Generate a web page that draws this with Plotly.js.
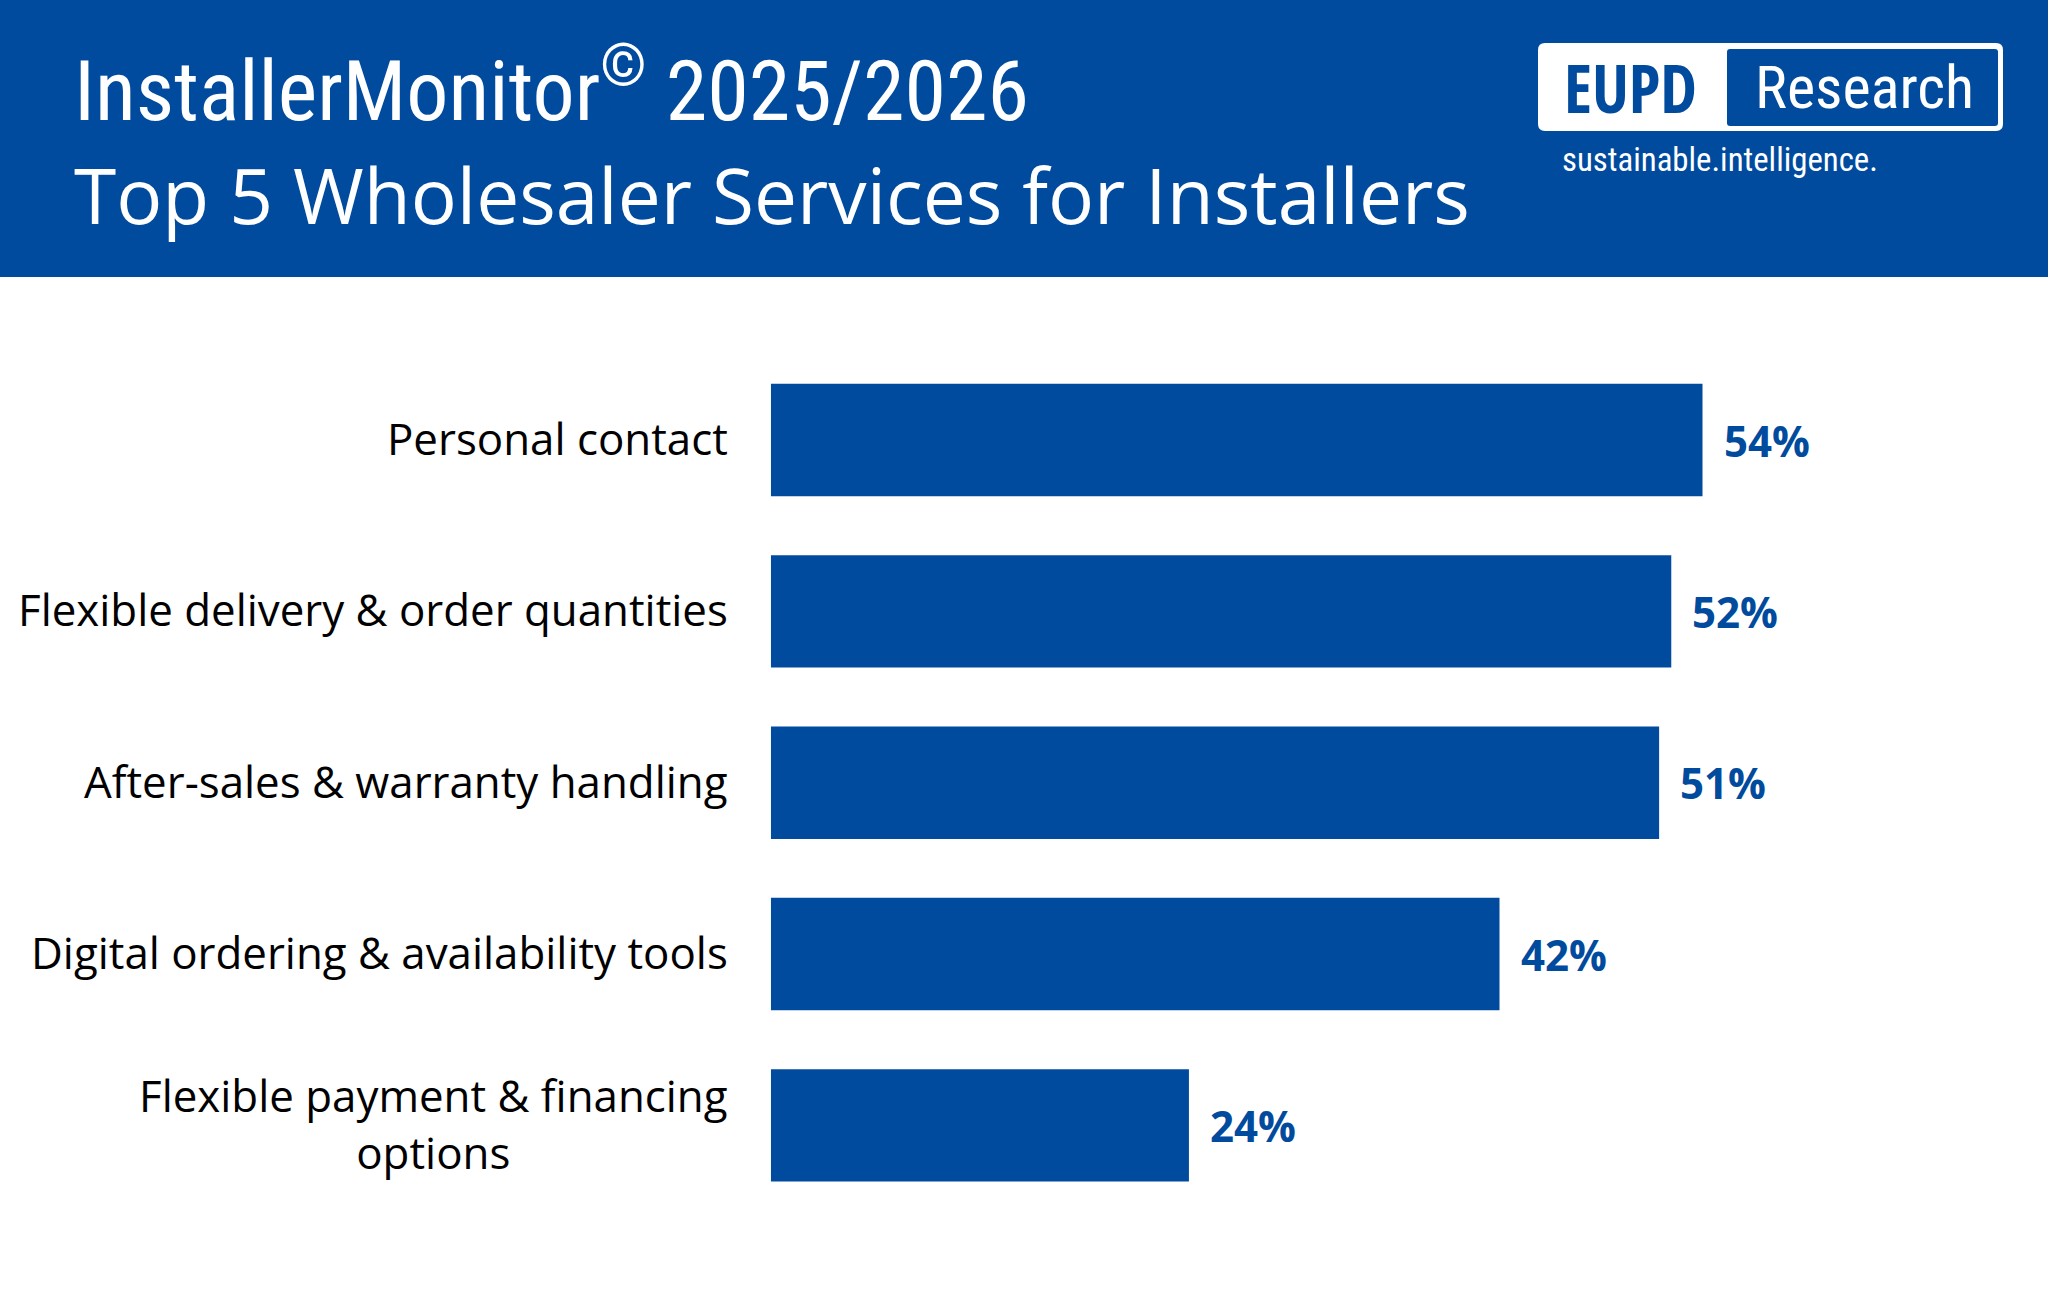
<!DOCTYPE html>
<html><head><meta charset="utf-8">
<script src="https://cdn.plot.ly/plotly-3.0.1.min.js"></script>
<style>html,body{margin:0;padding:0;background:#fff;overflow:hidden}#chart{width:2048px;height:1301px;}</style>
</head><body><div id="chart"></div>
<script>
// ---- data ----
const categories = ["Personal contact", "Flexible delivery & order quantities", "After-sales & warranty handling", "Digital ordering & availability tools", "Flexible payment & financing<br>options"];
const values = [53.7, 51.9, 51.2, 42.0, 24.1];
const valueLabels = ["54%", "52%", "51%", "42%", "24%"];
const titleLine1 = ["InstallerMonitor", "©", " 2025/2026"];
const titleLine2 = "Top 5 Wholesaler Services for Installers";
const logoLeft = "EUPD";
const logoRight = "Research";
const tagline = "sustainable.intelligence.";

// ---- helpers ----
const W = 2048, H = 1301;
const BLUE = "#004b9e";
const X = px => px / W, Y = py => 1 - py / H;
const cv = document.createElement("canvas").getContext("2d");
function mw(text, fam, weight, size) { cv.font = `${weight} ${size}px ${fam}`; return cv.measureText(text).width; }
const probe = "Research InstallerMonitor 2025";
function pick(pairs, weight, fallback) {
  for (const [c, b] of pairs) {
    const r = mw(probe, `"${c}", "${b}"`, weight, 100) / mw(probe, `"${b}"`, weight, 100);
    if (r < 0.92) return c;
  }
  return fallback;
}
const condReg = pick([["Roboto Condensed", "Roboto"], ["DejaVu Sans Condensed", "DejaVu Sans"]], 400, "DejaVu Sans Condensed");
const condBold = pick([["Open Sans Condensed", "Open Sans"], ["Roboto Condensed", "Roboto"]], 700, condReg);
const MAIN = "Open Sans";
function fit(text, fam, weight, target) { return 100 * target / mw(text, `"${fam}"`, weight, 100); }

const s1 = 100 * 955 / (mw(titleLine1[0], `"${condReg}"`, 400, 100) + 0.7 * mw(titleLine1[1], `"${condReg}"`, 400, 100) + mw(titleLine1[2], `"${condReg}"`, 400, 100));
const s2 = fit(titleLine2, MAIN, 400, 1396);
const sLab = fit("Flexible delivery & order quantities", MAIN, 400, 710);
const sVal = fit("54%", MAIN, 700, 86);
const sEupd = fit(logoLeft, condBold, 700, 133);
const sRes = fit(logoRight, condReg, 400, 219);
const sTag = fit(tagline, condReg, 400, 316);

// ---- shapes ----
function rrect(x0, y0, x1, y1, r) {
  const a = X(x0), b = X(x1), t = Y(y0), u = Y(y1), rx = r / W, ry = r / H;
  return `M ${a + rx},${t} L ${b - rx},${t} Q ${b},${t} ${b},${t - ry} L ${b},${u + ry} Q ${b},${u} ${b - rx},${u} L ${a + rx},${u} Q ${a},${u} ${a},${u + ry} L ${a},${t - ry} Q ${a},${t} ${a + rx},${t} Z`;
}
const shapes = [
  { type: "rect", xref: "paper", yref: "paper", x0: 0, x1: 1, y0: Y(277), y1: 1, fillcolor: BLUE, line: { width: 0 }, layer: "below" },
  { type: "path", xref: "paper", yref: "paper", path: rrect(1538, 43, 2003, 131, 7), fillcolor: "#ffffff", line: { width: 0 } },
  { type: "path", xref: "paper", yref: "paper", path: rrect(1727, 49, 1998, 126, 3), fillcolor: BLUE, line: { width: 0 } }
];

// ---- annotations ----
const ann = [];
const base = { showarrow: false, borderpad: 0, borderwidth: 0 };
ann.push(Object.assign({}, base, { xref: "paper", yref: "paper", x: X(74), y: Y(86), xanchor: "left", yanchor: "middle",
  text: `${titleLine1[0]}<sup>${titleLine1[1]}</sup>${titleLine1[2]}`, font: { family: condReg, size: s1, color: "#ffffff", weight: 400 } }));
ann.push(Object.assign({}, base, { xref: "paper", yref: "paper", x: X(74), y: Y(194), xanchor: "left", yanchor: "middle",
  text: titleLine2, font: { family: MAIN, size: s2, color: "#ffffff" } }));
ann.push(Object.assign({}, base, { xref: "paper", yref: "paper", x: X(1630), y: Y(88), xanchor: "center", yanchor: "middle",
  text: logoLeft, font: { family: condBold, size: sEupd, color: BLUE, weight: 700 } }));
ann.push(Object.assign({}, base, { xref: "paper", yref: "paper", x: X(1864), y: Y(88), xanchor: "center", yanchor: "middle",
  text: logoRight, font: { family: condReg, size: sRes, color: "#ffffff", weight: 400 } }));
ann.push(Object.assign({}, base, { xref: "paper", yref: "paper", x: X(1562), y: Y(160), xanchor: "left", yanchor: "middle",
  text: tagline, font: { family: condReg, size: sTag, color: "#ffffff", weight: 400 } }));
categories.forEach((c, i) => {
  ann.push(Object.assign({}, base, { xref: "paper", yref: "y", x: X(728), y: c, xanchor: "right", yanchor: "middle", align: "center", yshift: 2,
    text: c, font: { family: MAIN, size: sLab, color: "#000000" } }));
  ann.push(Object.assign({}, base, { xref: "x", yref: "y", x: values[i], y: c, xanchor: "left", yanchor: "middle", xshift: 21,
    text: valueLabels[i], font: { family: MAIN, size: sVal, color: BLUE, weight: 700 } }));
});

const trace = { type: "bar", orientation: "h", x: values, y: categories, marker: { color: BLUE, line: { width: 0 } }, hoverinfo: "skip" };

const layout = {
  width: W, height: H, margin: { l: 0, r: 0, t: 0, b: 0, pad: 0 },
  paper_bgcolor: "#ffffff", plot_bgcolor: "rgba(0,0,0,0)", showlegend: false, bargap: 0.344,
  xaxis: { range: [0, 70], domain: [X(770.8), X(770.8 + 70 * 17.35)], visible: false, fixedrange: true },
  yaxis: { type: "category", range: [4.5, -0.5], domain: [Y(1211), Y(354.4)], showticklabels: false, showgrid: false, zeroline: false, showline: false, ticks: "", fixedrange: true },
  shapes: shapes, annotations: ann, font: { family: MAIN }
};
Plotly.newPlot("chart", [trace], layout, { staticPlot: true, displayModeBar: false });
</script>
</body></html>
